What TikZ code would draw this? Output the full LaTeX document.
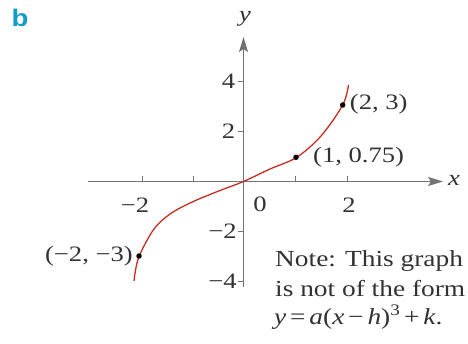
\documentclass[tikz,border=0pt]{standalone}
\usepackage{fontspec}
\setmainfont[FakeStretch=1.21]{Liberation Serif}
\newfontfamily\notefont[FakeStretch=1.19]{Liberation Serif}
\newfontfamily\sflab[FakeStretch=1.15]{Liberation Sans}
\usetikzlibrary{arrows.meta}
\definecolor{axisgray}{RGB}{115,115,115}
\definecolor{curvered}{RGB}{200,45,35}
\definecolor{txtgray}{RGB}{50,50,50}
\definecolor{partblue}{RGB}{20,155,205}
\tikzset{
  axis/.style={draw=axisgray, line width=1.1pt, -{Stealth[length=15pt,width=9pt,inset=3pt]}},
  tickline/.style={draw=axisgray, line width=0.9pt},
  curve/.style={draw=curvered, line width=1.3pt},
  dot/.style={circle, fill=black, inner sep=0pt, minimum size=5.5pt},
  lab/.style={text=txtgray, inner sep=0pt, font=\fontsize{22}{26}\selectfont},
  notetext/.style={text=txtgray, inner sep=0pt, anchor=base west, font=\notefont\fontsize{23}{29}\selectfont},
}
\begin{document}
\begin{tikzpicture}[x=1pt,y=-1pt]
\useasboundingbox[fill=white] (0,0) rectangle (468,344);
% part label
\node[text=partblue, inner sep=0pt, font=\sflab\bfseries\fontsize{24}{28}\selectfont] (b) at (20,18) {b};
% axes
\coordinate (xl) at (88,181.5);
\coordinate (xr) at (443,181.5);
\coordinate (yb) at (243.5,287);
\coordinate (yt) at (243.5,37);
\draw[axis] (xl) -- (xr);
\draw[axis] (yb) -- (yt);
\node[lab, font=\itshape\fontsize{22}{26}\selectfont] (xlab) at (454,180) {x};
\node[lab, font=\itshape\fontsize{22}{26}\selectfont] (ylab) at (245,19) {y};
% ticks
\foreach \px in {142.5,193,295,347} \draw[tickline] (\px,181.5) -- (\px,176);
\foreach \py in {81.5,131.5,231.5,281.5} \draw[tickline] (238,\py) -- (243.5,\py);
% tick labels
\node[lab, anchor=east] (t4) at (235.5,81.5) {4};
\node[lab, anchor=east] (t2) at (235.5,131.5) {2};
\node[lab, anchor=east] (tm2) at (237,231.5) {−2};
\node[lab, anchor=east] (tm4) at (237,281.5) {−4};
\node[lab] (xm2) at (135,205) {−2};
\node[lab] (x0) at (260,204) {0};
\node[lab] (x2) at (349,205) {2};
% curve
\draw[curve] plot[smooth, tension=0.55] coordinates {
 (134,281) (138.5,258) (153.3,230) (170,214) (193.3,201.5) (220,190.5) (243.5,181.5)
 (270,169) (296.7,157.3) (321,136) (342.7,105) (348.5,85)};
% points
\node[dot] (pA) at (139,256) {};
\node[dot] (pB) at (296,157.3) {};
\node[dot] (pC) at (342.7,105) {};
\node[lab, anchor=east] (lA) at ([xshift=-6pt]pA.center) {(−2, −3)};
\node[lab, anchor=west] (lB) at ([xshift=17pt]pB.center) {(1, 0.75)};
\node[lab, anchor=west] (lC) at ([xshift=7pt,yshift=1pt]pC.center) {(2, 3)};
% note
\node[notetext] (n1) at (275,266.5) {Note: This graph};
\node[notetext] (n2) at (275,296.5) {is not of the form};
\node[notetext] (n3) at (274,324.5) {\textit{y}\,=\,\textit{a}(\textit{x}\,−\,\textit{h})\textsuperscript{3}\,+\,\textit{k}.};
\end{tikzpicture}
\end{document}
